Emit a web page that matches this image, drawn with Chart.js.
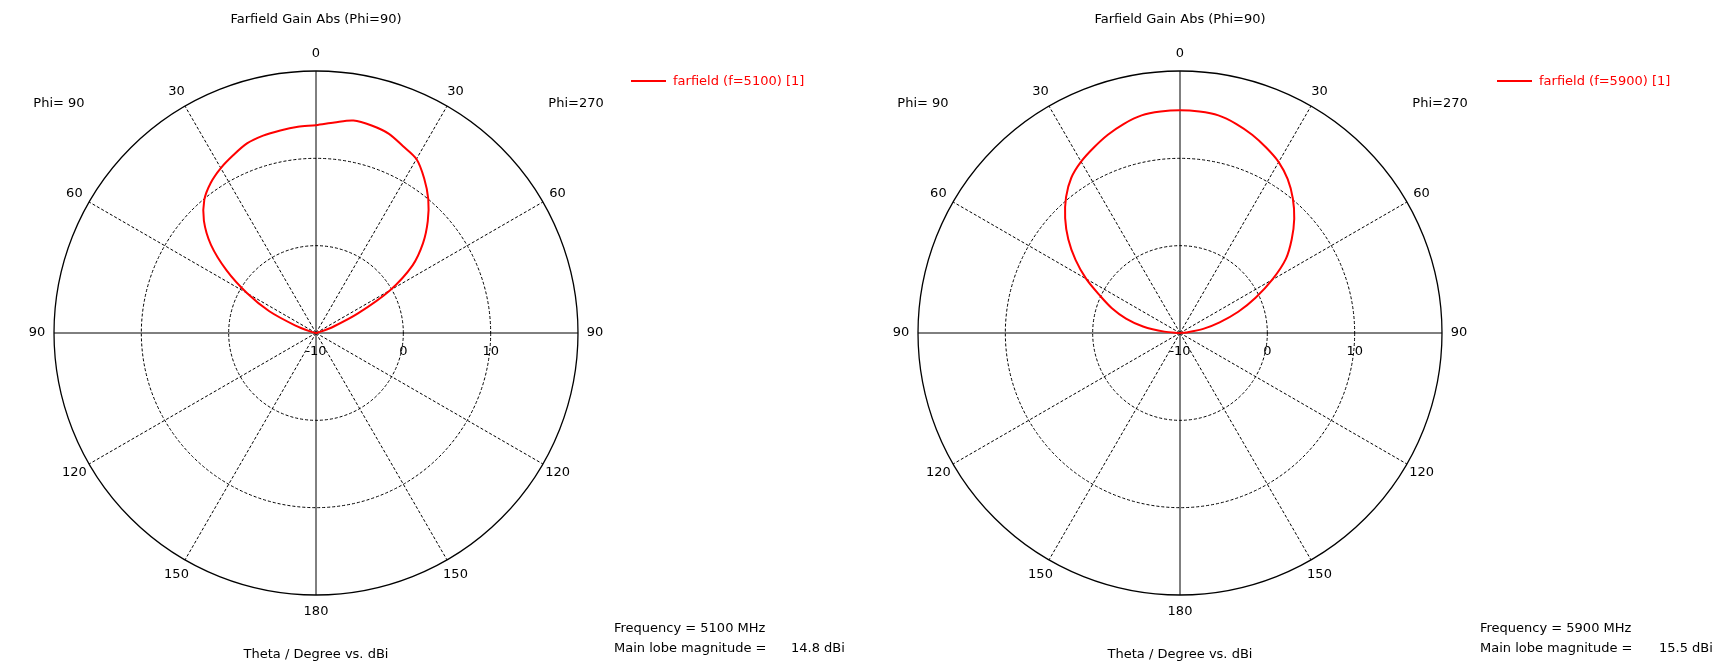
<!DOCTYPE html>
<html>
<head>
<meta charset="utf-8">
<script src="https://cdn.jsdelivr.net/npm/chart.js@4.4.0/dist/chart.umd.min.js"></script>
<style>
body { margin:0; background:#fff; font-family:"DejaVu Sans", sans-serif; font-size:13px; color:#000; }
.panel { position:absolute; top:0; width:864px; height:668px; }
.panel canvas { position:absolute; left:0; top:0; }
.t { position:absolute; white-space:nowrap; line-height:16px; }
.c { transform:translateX(-50%); }
.leg { color:#ff0000; }
.legline { position:absolute; height:2px; background:#ff0000; }
</style>
</head>
<body>

<div class="panel" style="left:0">
  <canvas id="chart1" width="864" height="668"></canvas>
  <div class="t c" style="left:316px; top:11px">Farfield Gain Abs (Phi=90)</div>
  <div class="t c" style="left:59px; top:95px">Phi= 90</div>
  <div class="t c" style="left:576px; top:95px">Phi=270</div>
  <div class="legline" style="left:631px; top:80px; width:35px"></div>
  <div class="t leg" style="left:673px; top:73px">farfield (f=5100) [1]</div>
  <div class="t" style="left:614px; top:620px">Frequency = 5100 MHz</div>
  <div class="t" style="left:614px; top:640px">Main lobe magnitude =</div>
  <div class="t" style="left:791px; top:640px">14.8 dBi</div>
  <div class="t c" style="left:316px; top:646px">Theta / Degree vs. dBi</div>
</div>

<div class="panel" style="left:864px">
  <canvas id="chart2" width="864" height="668"></canvas>
  <div class="t c" style="left:316px; top:11px">Farfield Gain Abs (Phi=90)</div>
  <div class="t c" style="left:59px; top:95px">Phi= 90</div>
  <div class="t c" style="left:576px; top:95px">Phi=270</div>
  <div class="legline" style="left:633px; top:80px; width:35px"></div>
  <div class="t leg" style="left:675px; top:73px">farfield (f=5900) [1]</div>
  <div class="t" style="left:616px; top:620px">Frequency = 5900 MHz</div>
  <div class="t" style="left:616px; top:640px">Main lobe magnitude =</div>
  <div class="t" style="left:795px; top:640px">15.5 dBi</div>
  <div class="t c" style="left:316px; top:646px">Theta / Degree vs. dBi</div>
</div>

<script>
// theta positions, clockwise from top: right half is Phi=270, left half is Phi=90
var thetaLabels = ['0','5','10','15','20','25','30','35','40','45','50','55',
  '60','65','70','75','80','85','90','95','100','105','110','115',
  '120','125','130','135','140','145','150','155','160','165','170','175',
  '180','175','170','165','160','155','150','145','140','135','130','125',
  '120','115','110','105','100','95','90','85','80','75','70','65',
  '60','55','50','45','40','35','30','25','20','15','10','5'];

// gain in dBi (values at or below -10 sit in the centre)
var gain5100 = [13.8, 14.2, 14.7, 14.6, 14.3, 13.6, 13.0, 11.6, 10.0, 8.1, 6.0, 3.5,
  -0.2, -4.7, -7.9, -9.5, -10, -10, -10, -10, -10, -10, -10, -10,
  -10, -10, -10, -10, -10, -10, -10, -10, -10, -10, -10, -10,
  -10, -10, -10, -10, -10, -10, -10, -10, -10, -10, -10, -10,
  -10, -10, -10, -10, -10, -10, -10, -10, -10, -9.4, -7.5, -4.1,
  -0.9, 2.5, 5.7, 8.15, 9.9, 11.0, 11.8, 12.45, 13.1, 13.4, 13.55, 13.7];

var gain5900 = [15.5, 15.45, 15.3, 14.8, 14.15, 13.4, 12.6, 11.5, 10.1, 8.5, 6.7, 4.8,
  2.2, -0.45, -2.9, -5.3, -7.3, -9.3, -10, -10, -10, -10, -10, -10,
  -10, -10, -10, -10, -10, -10, -10, -10, -10, -10, -10, -10,
  -10, -10, -10, -10, -10, -10, -10, -10, -10, -10, -10, -10,
  -10, -10, -10, -10, -10, -10, -10, -8.2, -5.7, -3.6, -1.7, 0.1,
  2.4, 4.6, 6.7, 8.6, 10.3, 11.7, 12.65, 13.4, 14.15, 14.8, 15.3, 15.45];

var rMin = -10, rMax = 20, rStep = 10;

var polarText = {
  id: 'polarText',
  afterDraw: function (chart) {
    var r = chart.scales.r;
    var ctx = chart.ctx;
    ctx.save();
    ctx.font = '13px "DejaVu Sans"';
    ctx.fillStyle = '#000';
    ctx.textAlign = 'center';
    ctx.textBaseline = 'middle';
    var outer = r.getDistanceFromCenterForValue(r.max);
    chart.data.labels.forEach(function (lab, i) {
      if (lab % 30 !== 0) return;
      var p = r.getPointPosition(i, outer + 17);
      ctx.fillText(lab, p.x, p.y);
    });
    r.ticks.forEach(function (t) {
      if (t.value >= r.max) return;
      var d = r.getDistanceFromCenterForValue(t.value);
      ctx.fillText(t.label, r.xCenter + d, r.yCenter + 19);
    });
    ctx.restore();
  }
};

function polarChart(id, gains) {
  var ctx = document.getElementById(id).getContext('2d');
  return new Chart(ctx, {
    type: 'radar',
    data: {
      labels: thetaLabels,
      datasets: [{
        data: gains,
        borderColor: '#ff0000',
        borderWidth: 2,
        pointRadius: 0,
        fill: false,
        tension: 0.3
      }]
    },
    options: {
      responsive: false,
      animation: false,
      devicePixelRatio: 1,
      layout: { padding: { left: 54, right: 286, top: 71, bottom: 73 } },
      plugins: { legend: { display: false }, tooltip: { enabled: false } },
      scales: {
        r: {
          min: rMin,
          max: rMax,
          ticks: { stepSize: rStep, display: false },
          pointLabels: { display: false },
          grid: {
            circular: true,
            color: '#000',
            lineWidth: function (c) { return c.tick && c.tick.value === rMax ? 1.3 : 1; }
          },
          border: {
            dash: function (c) { return c.tick && c.tick.value === rMax ? [] : [3, 2]; }
          },
          angleLines: {
            color: '#000',
            lineWidth: function (c) { return c.index % 6 === 0 ? 1 : 0; },
            borderDash: function (c) { return c.index % 18 === 0 ? [] : [3, 2]; }
          }
        }
      }
    },
    plugins: [polarText]
  });
}

polarChart('chart1', gain5100);
polarChart('chart2', gain5900);
</script>
</body>
</html>
